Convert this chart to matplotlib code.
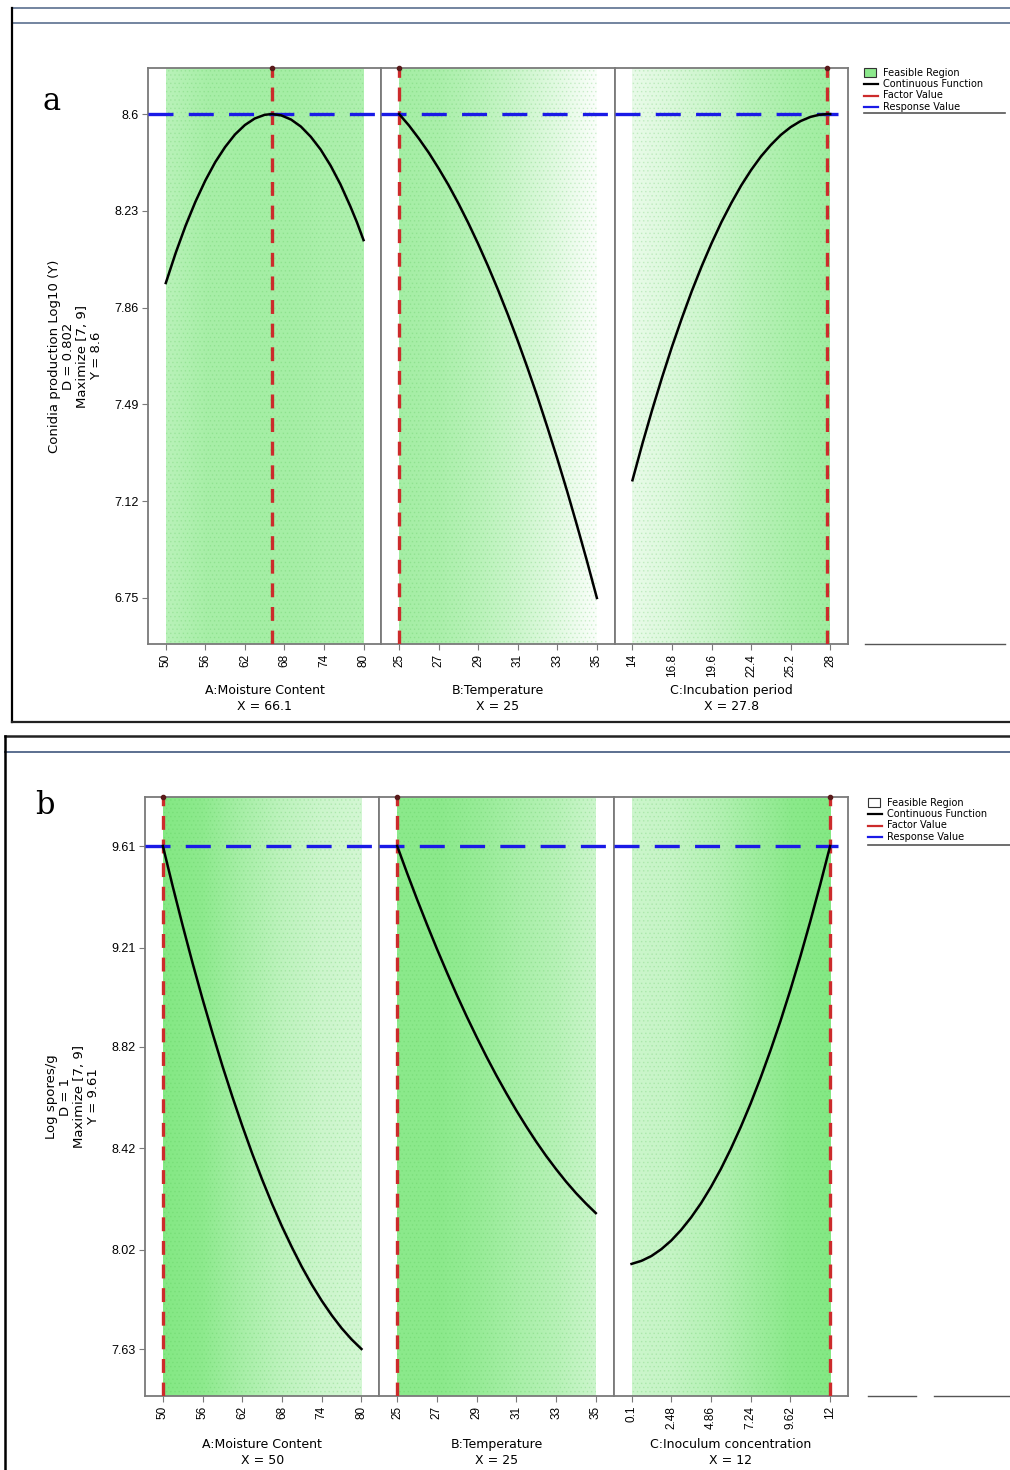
import numpy as np
import matplotlib.pyplot as plt
from matplotlib.lines import Line2D
from matplotlib.patches import Rectangle

plt.rcParams['font.family'] = ['DejaVu Sans']
plt.rcParams['lines.scale_dashes'] = False
plt.rcParams['hatch.linewidth'] = 0.6

W, H = 1010, 1470
TICKFONT = ['Liberation Sans', 'DejaVu Sans']

# ---- data, panel a ----
a_yticks = [6.75, 7.12, 7.49, 7.86, 8.23, 8.6]
a_ylim = (6.574, 8.776)
a_ylabel = 'Conidia production Log10 (Y)\nD = 0.802\nMaximize [7, 9]\nY = 8.6'
a_resp = 8.6

moist_ticks = [50, 56, 62, 68, 74, 80]
temp_ticks = [25, 27, 29, 31, 33, 35]
incub_ticks = [14, 16.8, 19.6, 22.4, 25.2, 28]
inoc_ticks = [0.1, 2.48, 4.86, 7.24, 9.62, 12]

a_moist_x = [50, 51.5, 53, 54.5, 56, 57.5, 59, 60.5, 62, 63.5, 65, 66.1,
             67.5, 69, 70.5, 72, 73.5, 75, 76.5, 78, 79, 80]
a_moist_y = [7.954, 8.069, 8.173, 8.265, 8.346, 8.416, 8.474, 8.522, 8.558, 8.583, 8.597, 8.6,
             8.595, 8.579, 8.552, 8.513, 8.464, 8.403, 8.331, 8.247, 8.186, 8.118]
a_temp_x = [25, 25.5, 26, 26.5, 27, 27.5, 28, 28.5, 29, 29.5, 30, 30.5,
            31, 31.5, 32, 32.5, 33, 33.5, 34, 34.5, 35]
a_temp_y = [8.6, 8.556, 8.506, 8.452, 8.392, 8.328, 8.258, 8.183, 8.103, 8.018, 7.928, 7.833,
            7.733, 7.628, 7.518, 7.402, 7.282, 7.157, 7.026, 6.891, 6.75]
a_incub_x = [14, 14.7, 15.4, 16.1, 16.8, 17.5, 18.2, 18.9, 19.6, 20.3, 21.0, 21.7,
             22.4, 23.1, 23.8, 24.5, 25.2, 25.9, 26.6, 27.2, 27.8, 28]
a_incub_y = [7.20, 7.339, 7.470, 7.594, 7.711, 7.820, 7.923, 8.018, 8.106, 8.187, 8.260, 8.327,
             8.386, 8.438, 8.482, 8.520, 8.550, 8.573, 8.589, 8.597, 8.6, 8.6]
a_factor = [66.1, 25, 27.8]
a_factor_txt = ['A:Moisture Content\nX = 66.1', 'B:Temperature\nX = 25', 'C:Incubation period\nX = 27.8']

# ---- data, panel b ----
b_yticks = [7.63, 8.02, 8.42, 8.82, 9.21, 9.61]
b_ylim = (7.445, 9.803)
b_ylabel = 'Log spores/g\nD = 1\nMaximize [7, 9]\nY = 9.61'
b_resp = 9.61

b_moist_x = [50, 51.5, 53, 54.5, 56, 57.5, 59, 60.5, 62, 63.5, 65,
             66.5, 68, 69.5, 71, 72.5, 74, 75.5, 77, 78.5, 80]
b_moist_y = [9.61, 9.450, 9.296, 9.148, 9.007, 8.873, 8.744, 8.623, 8.508, 8.399, 8.297,
             8.201, 8.112, 8.030, 7.953, 7.883, 7.820, 7.763, 7.712, 7.668, 7.63]
b_temp_x = [25, 25.5, 26, 26.5, 27, 27.5, 28, 28.5, 29, 29.5, 30, 30.5,
            31, 31.5, 32, 32.5, 33, 33.5, 34, 34.5, 35]
b_temp_y = [9.61, 9.503, 9.40, 9.301, 9.205, 9.113, 9.024, 8.939, 8.858, 8.780, 8.706, 8.636,
            8.569, 8.506, 8.446, 8.390, 8.338, 8.289, 8.244, 8.203, 8.165]
b_inoc_x = [0.1, 0.695, 1.29, 1.885, 2.48, 3.075, 3.67, 4.265, 4.86, 5.455, 6.05,
            6.645, 7.24, 7.835, 8.43, 9.025, 9.62, 10.215, 10.81, 11.405, 12]
b_inoc_y = [7.965, 7.977, 7.996, 8.023, 8.057, 8.099, 8.148, 8.204, 8.268, 8.339, 8.418,
            8.504, 8.597, 8.698, 8.806, 8.921, 9.044, 9.175, 9.313, 9.458, 9.61]
b_factor = [50, 25, 12]
b_factor_txt = ['A:Moisture Content\nX = 50', 'B:Temperature\nX = 25', 'C:Inoculum concentration\nX = 12']

# green shade strength at the six ticks of each factor
a_shade = [[0.48, 0.6, 0.62, 0.62, 0.58, 0.55],
           [0.62, 0.58, 0.48, 0.35, 0.2, 0.03],
           [0.15, 0.25, 0.35, 0.48, 0.58, 0.65]]
b_shade = [[0.85, 0.78, 0.6, 0.45, 0.35, 0.3],
           [0.8, 0.8, 0.72, 0.6, 0.5, 0.35],
           [0.35, 0.4, 0.5, 0.65, 0.8, 0.85]]

GREEN = np.array([110, 228, 110]) / 255.0
RED = '#cc2b2b'
BLUE = '#1a1ae6'
FRAME = '#7a7a7a'


def fx(x):
    return x / W


def fy(y):
    return 1 - y / H


def draw_panel(left, right, top, bottom, ticks, curves, factors, shades,
               ylim, yticks, resp, xlabels, ylabel, label_gap):
    width = (right - left) / 3
    height = bottom - top
    axes = []
    for i in range(3):
        ax = fig.add_axes([fx(left + i * width), fy(bottom), width / W, height / H])
        t = ticks[i]
        lo, hi = t[0], t[-1]
        m = 0.09 * (hi - lo)
        ax.set_xlim(lo - m, hi + m)
        ax.set_ylim(*ylim)

        # feasible region shading
        cols = np.linspace(lo, hi, 300)
        s = np.interp(cols, t, shades[i])
        img = np.ones((1, len(cols), 3))
        img[0] = 1 - s[:, None] * (1 - GREEN)
        ax.imshow(img, extent=(lo, hi, ylim[0], ylim[1]), aspect='auto',
                  interpolation='bilinear', zorder=0)
        ax.add_patch(Rectangle((lo, ylim[0]), hi - lo, ylim[1] - ylim[0],
                               facecolor='none', edgecolor=(0.3, 0.75, 0.3, 0.18),
                               hatch='....', lw=0, zorder=1))

        cx, cy = curves[i]
        ax.plot(cx, cy, color='black', lw=1.8, zorder=4, solid_joinstyle='round')

        ax.axvline(factors[i], color=RED, lw=2.4, ls=(0, (10, 7)), zorder=3)
        ax.plot([factors[i]], [ylim[1]], 'o', ms=3, color='#5a1a1a', clip_on=False, zorder=6)
        if i < 2:
            ax.axhline(resp, color=BLUE, lw=2.4, ls=(0, (18, 11)), zorder=3)
        else:
            ax.plot([lo - m, hi + 0.04 * (hi - lo)], [resp, resp], color=BLUE, lw=2.4,
                    ls=(0, (18, 11)), zorder=3, clip_on=False)

        ax.set_xticks(t)
        ax.set_xticklabels([('%g' % v) for v in t], rotation=90, fontsize=8.5, family=TICKFONT)
        if i == 0:
            ax.set_yticks(yticks)
            ax.set_yticklabels([('%g' % v) for v in yticks], fontsize=9, family=TICKFONT)
        else:
            ax.set_yticks([])
        ax.tick_params(direction='out', length=4, color=FRAME, pad=3)
        for sp in ax.spines.values():
            sp.set_color(FRAME)
            sp.set_linewidth(1.3)
        ax.set_xlabel(xlabels[i], fontsize=9, linespacing=1.3)
        ax.xaxis.set_label_coords(0.5, -label_gap / height)
        axes.append(ax)
    axes[0].set_ylabel(ylabel, fontsize=9.5, labelpad=8, linespacing=1.1)
    return axes


def legend(x0, y0, feasible_color):
    fig.add_artist(Rectangle((fx(x0), fy(y0 + 9)), 12 / W, 9 / H, transform=fig.transFigure,
                             facecolor=feasible_color, edgecolor='#333333', lw=0.8))
    items = [('Feasible Region', None), ('Continuous Function', 'black'),
             ('Factor Value', RED), ('Response Value', BLUE)]
    for k, (txt, c) in enumerate(items):
        yy = y0 + 4.5 + k * 11.5
        if c is not None:
            fig.add_artist(Line2D([fx(x0), fx(x0 + 14)], [fy(yy), fy(yy)], color=c, lw=1.6,
                                  transform=fig.transFigure))
        fig.text(fx(x0 + 19), fy(yy), txt, fontsize=7, va='center', ha='left')


fig = plt.figure(figsize=(W / 100, H / 100), dpi=100)

# panel a
draw_panel(148, 848, 68, 644, [moist_ticks, temp_ticks, incub_ticks],
           [(a_moist_x, a_moist_y), (a_temp_x, a_temp_y), (a_incub_x, a_incub_y)],
           a_factor, a_shade, a_ylim, a_yticks, a_resp, a_factor_txt, a_ylabel, 40)
legend(864, 68, '#8ce88c')
fig.add_artist(Line2D([fx(864), fx(1005)], [fy(113), fy(113)], color='#555555', lw=1.2,
                      transform=fig.transFigure))
fig.add_artist(Line2D([fx(865), fx(1005)], [fy(644), fy(644)], color='#555555', lw=1.0,
                      transform=fig.transFigure))
fig.text(fx(52), fy(102), 'a', fontsize=22, family='DejaVu Serif', ha='center', va='center')

# panel b
draw_panel(145, 848, 797, 1396, [moist_ticks, temp_ticks, inoc_ticks],
           [(b_moist_x, b_moist_y), (b_temp_x, b_temp_y), (b_inoc_x, b_inoc_y)],
           b_factor, b_shade, b_ylim, b_yticks, b_resp, b_factor_txt, b_ylabel, 42)
legend(868, 798, 'white')
fig.add_artist(Line2D([fx(868), fx(1010)], [fy(845), fy(845)], color='#555555', lw=1.2,
                      transform=fig.transFigure))
for xa, xb in [(868, 916), (934, 1010)]:
    fig.add_artist(Line2D([fx(xa), fx(xb)], [fy(1396), fy(1396)], color='#555555', lw=1.0,
                          transform=fig.transFigure))
fig.text(fx(45), fy(805), 'b', fontsize=22, family='DejaVu Serif', ha='center', va='center')

# outer frames of the two screenshots
for (xs, ys, c, lw) in [
        ([12, 1010], [8, 8], '#5b6f8f', 1.2), ([12, 1010], [23, 23], '#5b6f8f', 1.2),
        ([12, 12], [8, 722], 'black', 1.6), ([12, 1010], [722, 722], '#222222', 1.6),
        ([5, 1010], [736, 736], '#222222', 1.8), ([5, 1010], [752, 752], '#5b6f8f', 1.4),
        ([5, 5], [736, 1470], 'black', 1.8)]:
    fig.add_artist(Line2D([fx(v) for v in xs], [fy(v) for v in ys], color=c, lw=lw,
                          transform=fig.transFigure))

fig.savefig('out.png', dpi=100)
